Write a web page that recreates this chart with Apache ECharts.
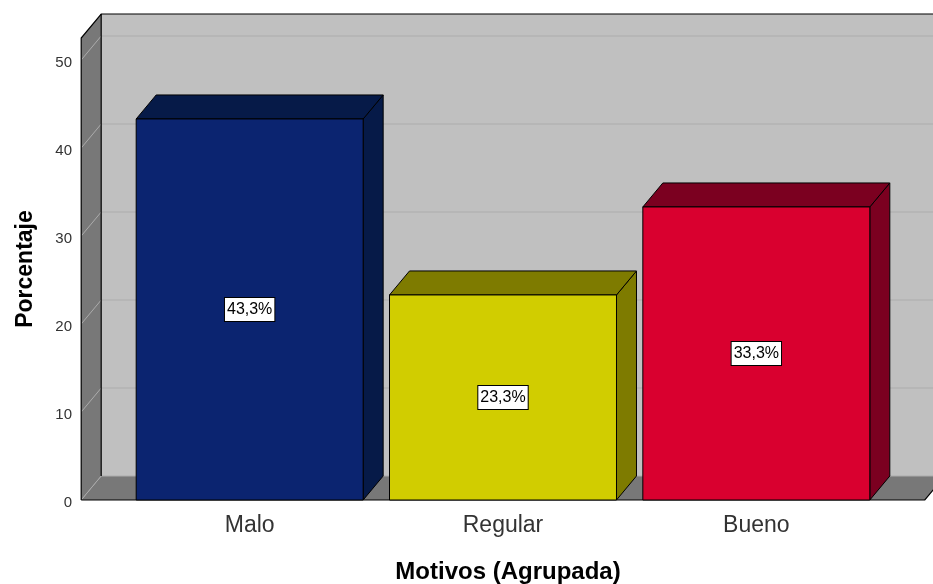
<!DOCTYPE html>
<html>
<head>
<meta charset="utf-8">
<script src="https://cdn.jsdelivr.net/npm/echarts@6/dist/echarts.min.js"></script>
<style>
  html, body { margin: 0; padding: 0; background: #ffffff; }
  #chart { width: 933px; height: 584px; }
</style>
</head>
<body>
<div id="chart"></div>
<script>
// Categories and percentages per category
const categories = ['Malo', 'Regular', 'Bueno'];
const percentages = [43.3, 23.3, 33.3];
const yTicks = [0, 10, 20, 30, 40, 50];
const yMax = 52.5;

// Face colours per bar: front, and the shaded top/side
const frontColors = ['#0b2470', '#d1cd00', '#d9002f'];
const shadeColors = ['#061a48', '#7e7b00', '#7b0020'];

// 3D depth offset (pixels)
const DX = 20, DY = -24;
const FONT = '"Liberation Sans", Arial, sans-serif';

const chart = echarts.init(document.getElementById('chart'), null, { renderer: 'canvas' });

function fmt(v) {
  return v.toFixed(1).replace('.', ',') + '%';
}

// Walls, floor and grid lines of the 3D box
function renderFrame(params, api) {
  const band = api.size([1, 0])[0];
  const p0 = api.coord([0, 0]);
  const p2 = api.coord([categories.length - 1, 0]);
  const x0 = p0[0] - band * 0.665;
  const x1 = p2[0] + band * 0.665;
  const yB = p0[1];
  const yT = api.coord([0, yMax])[1];
  const children = [];
  const black = { stroke: '#000', lineWidth: 1.2, fill: null };

  // back wall
  children.push({ type: 'rect', shape: { x: x0 + DX, y: yT + DY, width: x1 - x0 + 40, height: yB - yT },
    style: { fill: '#c0c0c0' } });
  // floor
  children.push({ type: 'polygon', shape: { points: [[x0, yB], [x1, yB], [x1 + DX, yB + DY], [x0 + DX, yB + DY]] },
    style: { fill: '#787878' } });
  // left wall
  children.push({ type: 'polygon', shape: { points: [[x0, yT], [x0 + DX, yT + DY], [x0 + DX, yB + DY], [x0, yB]] },
    style: { fill: '#787878' } });
  // grid lines
  yTicks.forEach(function (v) {
    const y = api.coord([0, v])[1];
    children.push({ type: 'polyline', shape: { points: [[x0, y], [x0 + DX, y + DY], [x1 + DX + 40, y + DY]] },
      style: { stroke: '#acacac', lineWidth: 1, fill: null } });
  });
  // outline edges
  children.push({ type: 'polyline', shape: { points: [[x0, yB], [x0, yT], [x0 + DX, yT + DY], [x1 + DX + 40, yT + DY]] }, style: black });
  children.push({ type: 'line', shape: { x1: x0 + DX, y1: yT + DY, x2: x0 + DX, y2: yB + DY }, style: black });
  children.push({ type: 'polyline', shape: { points: [[x0, yB], [x1, yB], [x1 + DX, yB + DY]] }, style: black });
  return { type: 'group', children: children };
}

// One 3D bar with its value label
function renderBar(params, api) {
  const idx = params.dataIndex;
  const v = api.value(1);
  const band = api.size([1, 0])[0];
  const top = api.coord([idx, v]);
  const base = api.coord([idx, 0]);
  const w = band * 0.896;
  const xl = top[0] - w / 2, xr = top[0] + w / 2;
  const yt = top[1], yb = base[1];
  const edge = { stroke: '#000', lineWidth: 1 };
  return {
    type: 'group',
    children: [
      { type: 'polygon', shape: { points: [[xr, yt], [xr + DX, yt + DY], [xr + DX, yb + DY], [xr, yb]] },
        style: Object.assign({ fill: shadeColors[idx] }, edge) },
      { type: 'polygon', shape: { points: [[xl, yt], [xl + DX, yt + DY], [xr + DX, yt + DY], [xr, yt]] },
        style: Object.assign({ fill: shadeColors[idx] }, edge) },
      { type: 'rect', shape: { x: xl, y: yt, width: w, height: yb - yt },
        style: Object.assign({ fill: frontColors[idx] }, edge) },
      { type: 'text', x: top[0], y: (yt + yb) / 2,
        style: { text: fmt(v), fill: '#000', font: '16px ' + FONT, align: 'center', verticalAlign: 'middle',
          backgroundColor: '#ffffff', borderColor: '#000', borderWidth: 1, padding: [4, 2, 3, 2] } }
    ]
  };
}

chart.setOption({
  animation: false,
  backgroundColor: '#ffffff',
  grid: { left: 123, right: 50, top: 38, bottom: 84, containLabel: false, outerBoundsMode: 'none' },
  xAxis: {
    type: 'category',
    data: categories,
    axisLine: { show: false },
    axisTick: { show: false },
    splitLine: { show: false },
    axisLabel: { fontSize: 23, color: '#333', fontFamily: FONT, margin: 14 },
    name: 'Motivos (Agrupada)',
    nameLocation: 'middle',
    nameGap: 60,
    nameTextStyle: { fontSize: 24, fontWeight: 'bold', color: '#000', fontFamily: FONT, padding: [0, 0, 0, 10] }
  },
  yAxis: {
    type: 'value',
    min: 0,
    max: yMax,
    interval: 10,
    axisLine: { show: false },
    axisTick: { show: false },
    splitLine: { show: false },
    axisLabel: { fontSize: 15, color: '#333', fontFamily: FONT, margin: 51, showMaxLabel: false,
      verticalAlign: 'top', lineHeight: 6 },
    name: 'Porcentaje',
    nameLocation: 'middle',
    nameRotate: 90,
    nameGap: 86,
    nameTextStyle: { fontSize: 23, fontWeight: 'bold', color: '#000', fontFamily: FONT }
  },
  series: [
    {
      type: 'custom',
      clip: false,
      silent: true,
      z: 1,
      renderItem: renderFrame,
      data: [[0, 0]]
    },
    {
      type: 'custom',
      clip: false,
      z: 2,
      renderItem: renderBar,
      data: percentages.map(function (v, i) { return [i, v]; })
    }
  ]
});
</script>
</body>
</html>
